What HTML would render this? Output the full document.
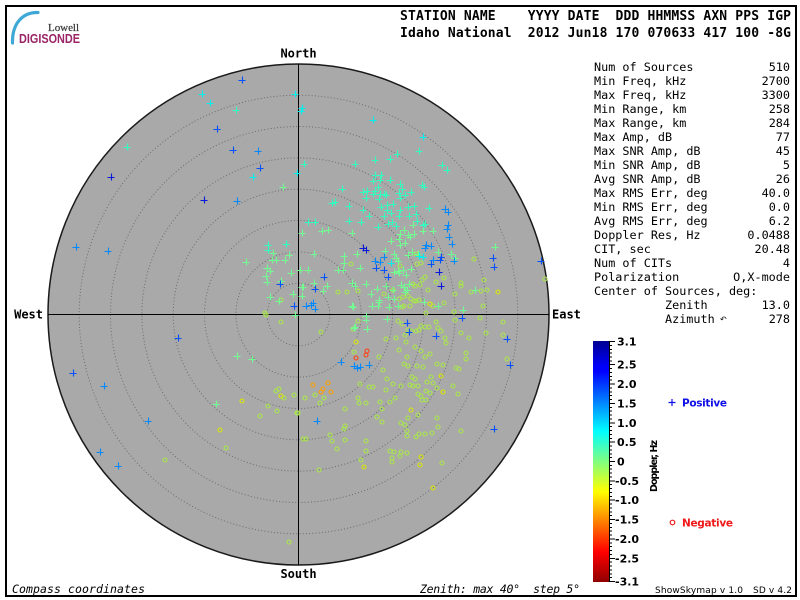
<!DOCTYPE html>
<html><head><meta charset="utf-8"><style>
html,body{margin:0;padding:0;background:#fff;width:800px;height:600px;overflow:hidden}
svg{display:block}
text{white-space:pre}
</style></head><body>
<svg xmlns="http://www.w3.org/2000/svg" width="800" height="600" viewBox="0 0 800 600">
<defs>
<linearGradient id="jet" x1="0" y1="0" x2="0" y2="1">
<stop offset="0" stop-color="#000090"/>
<stop offset="0.11" stop-color="#0000ff"/>
<stop offset="0.125" stop-color="#0000ff"/>
<stop offset="0.375" stop-color="#00ffff"/>
<stop offset="0.5" stop-color="#80ff80"/>
<stop offset="0.625" stop-color="#ffff00"/>
<stop offset="0.875" stop-color="#ff0000"/>
<stop offset="1" stop-color="#900000"/>
</linearGradient>
<marker id="pD" markerUnits="userSpaceOnUse" markerWidth="9" markerHeight="9" refX="4" refY="4" overflow="visible"><path d="M0.5 4.5h7M4.5 0.5v7" stroke="#0818d8" stroke-width="1.1" fill="none"/></marker>
<marker id="pB" markerUnits="userSpaceOnUse" markerWidth="9" markerHeight="9" refX="4" refY="4" overflow="visible"><path d="M0.5 4.5h7M4.5 0.5v7" stroke="#0050ff" stroke-width="1.1" fill="none"/></marker>
<marker id="pM" markerUnits="userSpaceOnUse" markerWidth="9" markerHeight="9" refX="4" refY="4" overflow="visible"><path d="M0.5 4.5h7M4.5 0.5v7" stroke="#0088ff" stroke-width="1.1" fill="none"/></marker>
<marker id="pC" markerUnits="userSpaceOnUse" markerWidth="9" markerHeight="9" refX="4" refY="4" overflow="visible"><path d="M0.5 4.5h7M4.5 0.5v7" stroke="#00f0f0" stroke-width="1.1" fill="none"/></marker>
<marker id="pA" markerUnits="userSpaceOnUse" markerWidth="9" markerHeight="9" refX="4" refY="4" overflow="visible"><path d="M0.5 4.5h7M4.5 0.5v7" stroke="#30ffc0" stroke-width="1.1" fill="none"/></marker>
<marker id="pG" markerUnits="userSpaceOnUse" markerWidth="9" markerHeight="9" refX="4" refY="4" overflow="visible"><path d="M0.5 4.5h7M4.5 0.5v7" stroke="#70ff90" stroke-width="1.1" fill="none"/></marker>
<marker id="cYG" markerUnits="userSpaceOnUse" markerWidth="8" markerHeight="8" refX="3" refY="3" overflow="visible"><circle cx="3" cy="3" r="2" fill="none" stroke="#a8e848" stroke-width="1.1"/></marker>
<marker id="cY" markerUnits="userSpaceOnUse" markerWidth="8" markerHeight="8" refX="3" refY="3" overflow="visible"><circle cx="3" cy="3" r="2" fill="none" stroke="#d8e800" stroke-width="1.1"/></marker>
<marker id="cO" markerUnits="userSpaceOnUse" markerWidth="8" markerHeight="8" refX="3" refY="3" overflow="visible"><circle cx="3" cy="3" r="2" fill="none" stroke="#ffa000" stroke-width="1.1"/></marker>
<marker id="cR" markerUnits="userSpaceOnUse" markerWidth="8" markerHeight="8" refX="3" refY="3" overflow="visible"><circle cx="3" cy="3" r="2" fill="none" stroke="#ff4010" stroke-width="1.1"/></marker>
</defs>

<rect x="0" y="0" width="800" height="600" fill="#fff"/>
<rect x="6" y="6" width="790" height="590" fill="none" stroke="#000" stroke-width="2"/>

<!-- logo -->
<path d="M38 12.5 C24 12 12 22 12.5 43" fill="none" stroke="#3ea8d6" stroke-width="3.2" stroke-linecap="round"/>
<text x="48" y="31" font-family="Liberation Serif, serif" font-size="11" fill="#333" stroke="#333" stroke-width="0.2" textLength="31">Lowell</text>
<text x="19" y="43" font-family="Liberation Sans, sans-serif" font-weight="bold" font-size="12.5" fill="#9a2466" textLength="61" lengthAdjust="spacingAndGlyphs">DIGISONDE</text>

<!-- header -->
<text x="400" y="20" font-family="DejaVu Sans Mono, Liberation Mono, monospace" font-weight="bold" font-size="13" textLength="391" xml:space="preserve">STATION NAME    YYYY DATE  DDD HHMMSS AXN PPS IGP</text>
<text x="400" y="37" font-family="DejaVu Sans Mono, Liberation Mono, monospace" font-weight="bold" font-size="13" textLength="391" xml:space="preserve">Idaho National  2012 Jun18 170 070633 417 100 -8G</text>

<!-- sky circle -->
<circle cx="298.5" cy="314.5" r="250.5" fill="#a9a9a9" stroke="#1a1a1a" stroke-width="1.5"/>
<g fill="none" stroke="#6c6c6c" stroke-width="1" stroke-dasharray="1 2.2">
<circle cx="298.5" cy="314.5" r="31.3"/>
<circle cx="298.5" cy="314.5" r="62.6"/>
<circle cx="298.5" cy="314.5" r="94"/>
<circle cx="298.5" cy="314.5" r="125.3"/>
<circle cx="298.5" cy="314.5" r="156.6"/>
<circle cx="298.5" cy="314.5" r="188"/>
<circle cx="298.5" cy="314.5" r="219.3"/>
</g>
<path d="M298.5 64V565M48 314.5H549" stroke="#000" stroke-width="1"/>

<g font-family="DejaVu Sans Mono, Liberation Mono, monospace" font-weight="bold" font-size="12" fill="#000">
<text x="298.5" y="57.5" text-anchor="middle">North</text>
<text x="298.5" y="578" text-anchor="middle">South</text>
<text x="43" y="318.5" text-anchor="end">West</text>
<text x="552" y="318.5">East</text>
</g>

<!-- points -->
<g fill="none" stroke="none">
<polyline marker-start="url(#cYG)" marker-mid="url(#cYG)" marker-end="url(#cYG)" points="281,300 265,313 351,264 400,266 416,254 421,263 417,264 474,259 413,284 415,286 420,285 422,280 425,277 428,290 436,282 444,278 455,294 461,283 461,286 471,292 481,291 484,280 487,290 545,279 338,292 347,292 358,291 384,294 393,290 399,299 403,297 408,296 411,299 414,301 416,301 419,300 433,306 444,303 454,312 426,313 402,307 404,306 410,306 483,306 266,315 281,322 276,391 279,389 284,398 294,395 268,406 277,411 260,416 297,413 226,448 165,460 289,542 321,332 358,321 353,329 354,352 379,357 386,339 398,321 402,324 396,338 405,335 408,330 411,331 416,331 419,330 421,326 425,327 429,327 436,322 438,328 441,331 445,338 446,343 455,320 461,333 469,338 480,318 503,322 486,333 503,335 399,350 406,342 415,347 421,351 425,357 430,354 407,357 404,364 408,366 417,366 423,367 437,364 443,365 466,353 466,359 456,368 459,369 507,359 383,370 387,379 360,384 369,387 373,387 386,390 393,384 401,386 410,385 413,386 418,386 412,377 415,379 427,382 431,377 433,383 437,388 453,386 458,394 418,394 421,396 422,400 426,400 426,391 430,393 305,398 315,395 320,403 324,398 358,398 359,403 366,403 380,402 390,402 395,398 345,409 382,409 377,417 382,422 401,423 405,425 408,418 418,415 437,418 438,427 461,431 345,426 344,429 330,435 332,441 337,449 345,440 303,439 306,439 366,441 366,451 361,460 390,451 394,452 401,452 407,453 400,456 392,458 392,462 407,431 407,436 416,437 419,434 425,434 432,433 442,463 319,470 298,413"/>
<polyline marker-start="url(#cY)" marker-mid="url(#cY)" marker-end="url(#cY)" points="356,342 498,292 441,376 443,392 411,410 421,457 420,465 433,488 364,467 281,396 242,401 220,430 430,304"/>
<polyline marker-start="url(#cO)" marker-mid="url(#cO)" marker-end="url(#cO)" points="313,385 328,383 323,389 321,392 331,392"/>
<polyline marker-start="url(#cR)" marker-mid="url(#cR)" marker-end="url(#cR)" points="367,351 366,355 356,358"/>
<polyline marker-start="url(#pG)" marker-mid="url(#pG)" marker-end="url(#pG)" points="283,187 273,253 289,255 272,260 276,260 285,260 246,262 267,268 270,271 266,276 291,273 267,282 281,281 293,294 270,297 279,301 322,231 328,230 302,233 352,233 400,234 404,230 408,235 413,225 414,234 423,231 433,231 391,241 399,239 405,243 410,237 385,251 400,245 438,252 495,247 314,254 344,256 357,254 394,254 396,258 398,261 408,255 412,252 418,254 451,254 455,258 398,271 344,263 360,268 338,270 343,270 300,270 308,270 394,272 399,273 403,270 406,275 411,269 314,283 303,287 327,286 352,283 355,286 366,284 377,289 371,294 386,286 393,290 401,285 404,287 405,292 407,290 409,284 323,291 379,300 379,302 388,297 394,299 352,306 353,307 372,306 378,306 398,306 389,307 424,302 438,306 463,310 475,290 302,296 302,287 237,356 252,359 216,404 295,315 366,316 366,320 387,319 355,327 367,329 354,328"/>
<polyline marker-start="url(#pA)" marker-mid="url(#pA)" marker-end="url(#pA)" points="236,110 127,147 268,245 268,250 286,244 304,164 355,164 375,160 390,159 397,154 419,151 442,165 447,170 375,175 381,175 373,181 380,180 390,180 342,189 400,184 402,189 422,185 424,187 378,187 375,191 363,192 367,191 373,194 380,194 384,194 399,193 405,195 411,192 366,198 379,199 386,195 400,198 332,203 335,202 349,206 363,210 381,207 387,205 387,210 393,204 408,207 414,206 400,210 429,208 369,216 384,216 391,213 399,216 409,216 416,214 308,222 315,222 349,221 361,222 388,224 392,222 396,226 417,221 423,225 425,224 378,227"/>
<polyline marker-start="url(#pC)" marker-mid="url(#pC)" marker-end="url(#pC)" points="202,94 210,103 253,177 295,94 302,108 301,111 297,173 419,256 423,257 391,263 373,120 423,137"/>
<polyline marker-start="url(#pM)" marker-mid="url(#pM)" marker-end="url(#pM)" points="258,151 237,201 76,247 108,251 104,386 100,452 118,466 148,421 341,362 354,366 357,368 360,367 369,365 317,421 445,209 448,212 448,225 447,229 449,237 452,244 426,245 431,246 425,248 433,260 454,261 375,261 380,262 384,257 313,303 315,309 306,306 311,305"/>
<polyline marker-start="url(#pB)" marker-mid="url(#pB)" marker-end="url(#pB)" points="242,80 217,129 233,150 260,168 178,338 73,373 407,323 409,332 436,336 462,318 507,339 510,365 494,429 388,277 441,257 440,260 493,258 541,261 494,267 431,264 384,270 376,268 280,284 294,306 315,289 324,277"/>
<polyline marker-start="url(#pD)" marker-mid="url(#pD)" marker-end="url(#pD)" points="111,177 204,200 363,248 366,250 441,286 439,272"/>
</g>

<!-- stats table -->
<g font-family="DejaVu Sans Mono, Liberation Mono, monospace" font-size="11.8" fill="#000">
<text x="594" y="71">Num of Sources</text><text x="790" y="71" text-anchor="end">510</text>
<text x="594" y="85">Min Freq, kHz</text><text x="790" y="85" text-anchor="end">2700</text>
<text x="594" y="99">Max Freq, kHz</text><text x="790" y="99" text-anchor="end">3300</text>
<text x="594" y="113">Min Range, km</text><text x="790" y="113" text-anchor="end">258</text>
<text x="594" y="127">Max Range, km</text><text x="790" y="127" text-anchor="end">284</text>
<text x="594" y="141">Max Amp, dB</text><text x="790" y="141" text-anchor="end">77</text>
<text x="594" y="155">Max SNR Amp, dB</text><text x="790" y="155" text-anchor="end">45</text>
<text x="594" y="169">Min SNR Amp, dB</text><text x="790" y="169" text-anchor="end">5</text>
<text x="594" y="183">Avg SNR Amp, dB</text><text x="790" y="183" text-anchor="end">26</text>
<text x="594" y="197">Max RMS Err, deg</text><text x="790" y="197" text-anchor="end">40.0</text>
<text x="594" y="211">Min RMS Err, deg</text><text x="790" y="211" text-anchor="end">0.0</text>
<text x="594" y="225">Avg RMS Err, deg</text><text x="790" y="225" text-anchor="end">6.2</text>
<text x="594" y="239">Doppler Res, Hz</text><text x="790" y="239" text-anchor="end">0.0488</text>
<text x="594" y="253">CIT, sec</text><text x="790" y="253" text-anchor="end">20.48</text>
<text x="594" y="267">Num of CITs</text><text x="790" y="267" text-anchor="end">4</text>
<text x="594" y="281">Polarization</text><text x="790" y="281" text-anchor="end">O,X-mode</text>
<text x="594" y="295">Center of Sources, deg:</text>
<text x="665" y="309">Zenith</text><text x="790" y="309" text-anchor="end">13.0</text>
<text x="665" y="323">Azimuth</text><text x="790" y="323" text-anchor="end">278</text>
</g>
<text x="720" y="322" font-family="DejaVu Sans, sans-serif" font-size="8" fill="#000">↶</text>

<!-- colorbar -->
<rect x="593" y="341" width="16" height="241" fill="url(#jet)"/>
<path d="M609.5 341V582" stroke="#000" stroke-width="1"/>
<path stroke="#000" stroke-width="1" fill="none" d="M609 341.5h3M609 345.5h3M609 349.5h3M609 353h3M609 357h3M609 361h3M609 364.5h3M609 368.5h3M609 372.5h3M609 376.5h3M609 380h3M609 384h3M609 388h3M609 392h3M609 395.5h3M609 399.5h3M609 403.5h3M609 407.5h3M609 411h3M609 415h3M609 419h3M609 423h3M609 426.5h3M609 430.5h3M609 434.5h3M609 438.5h3M609 442h3M609 446h3M609 450h3M609 454h3M609 457.5h3M609 461.5h3M609 465.5h3M609 469h3M609 473h3M609 477h3M609 481h3M609 484.5h3M609 488.5h3M609 492.5h3M609 496.5h3M609 500h3M609 504h3M609 508h3M609 512h3M609 515.5h3M609 519.5h3M609 523.5h3M609 527.5h3M609 531h3M609 535h3M609 539h3M609 543h3M609 546.5h3M609 550.5h3M609 554.5h3M609 558.5h3M609 562h3M609 566h3M609 570h3M609 574h3M609 577.5h3M609 581.5h3"/>
<path stroke="#000" stroke-width="1" fill="none" d="M609 341.5h6M609 364.5h6M609 384h6M609 403.5h6M609 423h6M609 442h6M609 461.5h6M609 481h6M609 500h6M609 519.5h6M609 539h6M609 558.5h6M609 581.5h6"/>
<g font-family="DejaVu Sans, Liberation Sans, sans-serif" font-weight="bold" font-size="11" fill="#000">
<text x="617" y="345.5">3.1</text>
<text x="617" y="368.5">2.5</text>
<text x="617" y="388">2.0</text>
<text x="617" y="407.5">1.5</text>
<text x="617" y="427">1.0</text>
<text x="617" y="446">0.5</text>
<text x="617" y="465.5">0</text>
<text x="615" y="485">-0.5</text>
<text x="615" y="504">-1.0</text>
<text x="615" y="523.5">-1.5</text>
<text x="615" y="543">-2.0</text>
<text x="615" y="562.5">-2.5</text>
<text x="615" y="585.5">-3.1</text>
</g>
<text transform="translate(657,466) rotate(-90)" text-anchor="middle" font-family="DejaVu Sans, Liberation Sans, sans-serif" font-weight="bold" font-size="9.5" fill="#000" textLength="52">Doppler, Hz</text>

<!-- legend -->
<path d="M668.5 402.5h7M672 399v7" stroke="#1010e8" stroke-width="1.2"/>
<text x="682" y="406.5" font-family="DejaVu Sans, Liberation Sans, sans-serif" font-weight="bold" font-size="10.5" fill="#1010e8" textLength="45">Positive</text>
<circle cx="672.5" cy="522.5" r="2.3" fill="none" stroke="#f01818" stroke-width="1.2"/>
<text x="682" y="526.5" font-family="DejaVu Sans, Liberation Sans, sans-serif" font-weight="bold" font-size="10.5" fill="#f01818" textLength="51">Negative</text>

<!-- footer -->
<text x="12" y="593" font-family="DejaVu Sans Mono, Liberation Mono, monospace" font-style="italic" font-size="11.5" fill="#000" textLength="133">Compass coordinates</text>
<text x="420" y="593" font-family="DejaVu Sans Mono, Liberation Mono, monospace" font-style="italic" font-size="11.5" fill="#000" textLength="160" xml:space="preserve">Zenith: max 40°  step 5°</text>
<text x="655" y="593" font-family="DejaVu Sans, Liberation Sans, sans-serif" font-size="9" fill="#000" textLength="88">ShowSkymap v 1.0</text>
<text x="753" y="593" font-family="DejaVu Sans, Liberation Sans, sans-serif" font-size="9" fill="#000" textLength="39">SD v 4.2</text>
</svg>
</body></html>
